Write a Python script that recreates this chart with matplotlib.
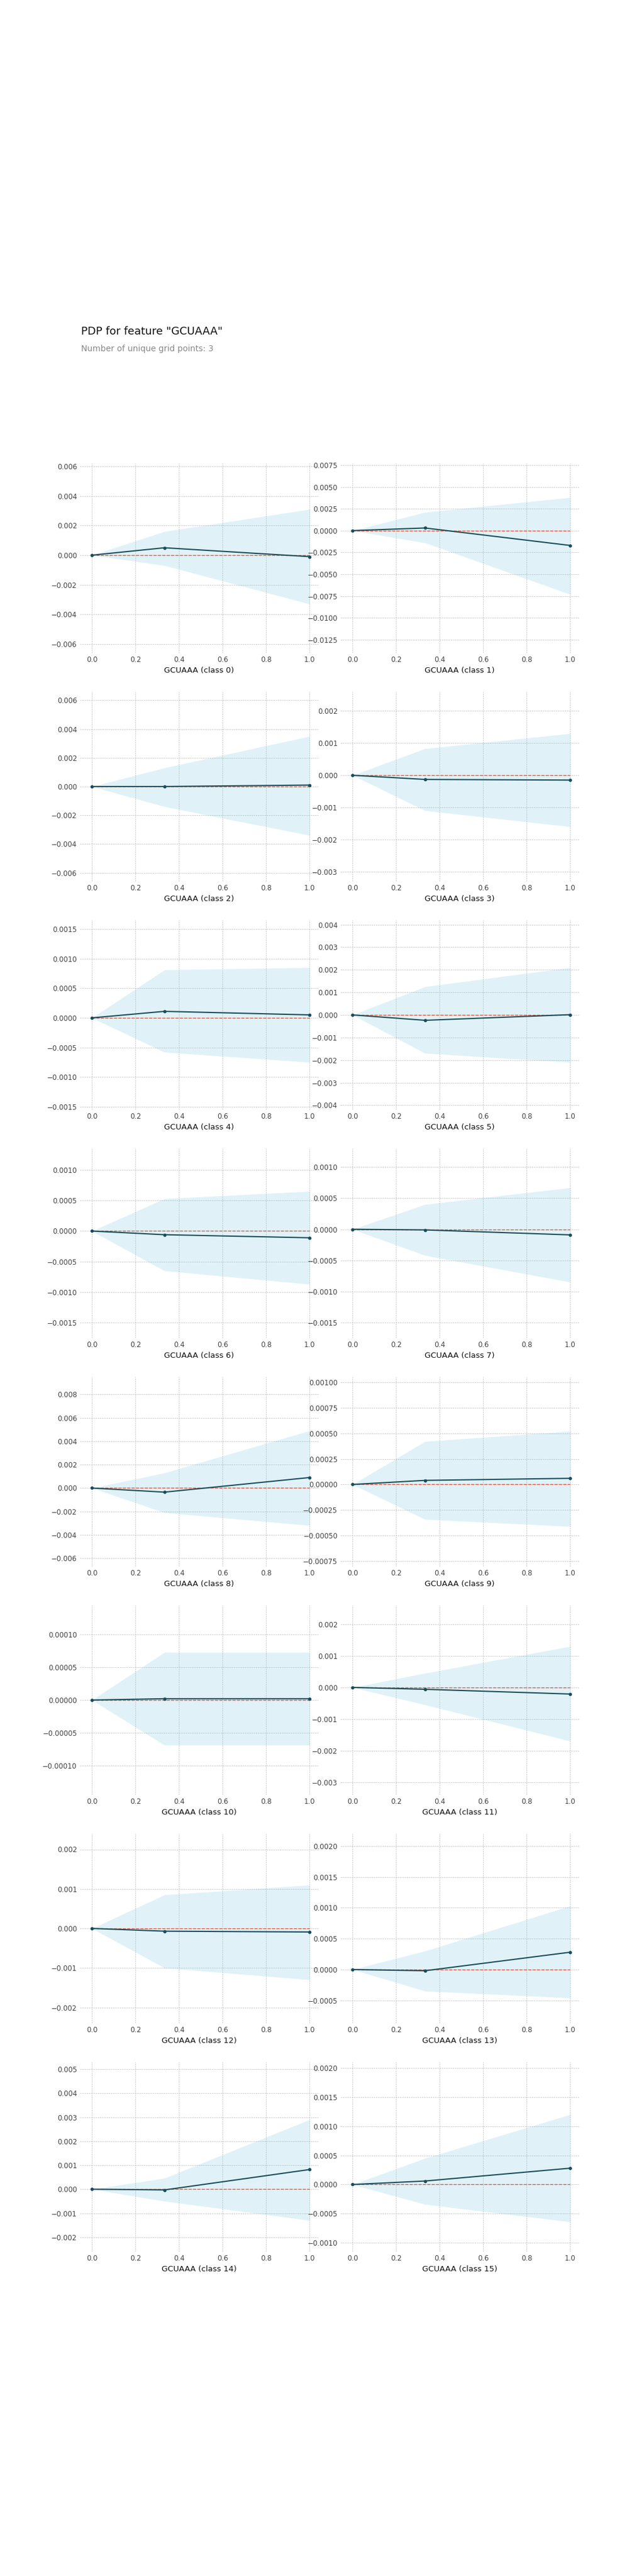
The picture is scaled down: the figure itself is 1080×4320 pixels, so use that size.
import matplotlib
matplotlib.use("Agg")
import matplotlib.pyplot as plt
import numpy as np

feature = "GCUAAA"
grid = [0.0, 1/3, 1.0]
classes = list(range(16))
pdp = [
    [0, 0.0005, -0.0001], [0, 0.0003, -0.0017], [0, 0.0, 0.0001], [0, -0.00013, -0.00015],
    [0, 0.00011, 0.00005], [0, -0.00024, 0.00001], [0, -0.00006, -0.00011], [0, -0.00001, -0.00009],
    [0, -0.00035, 0.0009], [0, 0.00004, 0.00006], [0, 0.000002, 0.000002], [0, -0.00006, -0.00021],
    [0, -0.00007, -0.00009], [0, -0.00002, 0.00028], [0, -0.00003, 0.00082], [0, 0.00006, 0.00028],
]
upper = [
    [0, 0.0016, 0.0031], [0, 0.0021, 0.0038], [0, 0.0013, 0.0035], [0, 0.00083, 0.0013],
    [0, 0.00081, 0.00085], [0, 0.00125, 0.0021], [0, 0.00053, 0.00065], [0, 0.0004, 0.00067],
    [0, 0.0013, 0.0049], [0, 0.00042, 0.00052], [0, 0.000073, 0.000073], [0, 0.00045, 0.0013],
    [0, 0.00085, 0.0011], [0, 0.0003, 0.00103], [0, 0.00046, 0.0029], [0, 0.00045, 0.0012],
]
lower = [
    [0, -0.0007, -0.0033], [0, -0.0014, -0.0073], [0, -0.0014, -0.0034], [0, -0.0011, -0.0016],
    [0, -0.00058, -0.00075], [0, -0.0017, -0.0021], [0, -0.00065, -0.00087], [0, -0.00042, -0.00085],
    [0, -0.0021, -0.0032], [0, -0.00034, -0.00041], [0, -0.000069, -0.000069], [0, -0.00055, -0.0017],
    [0, -0.001, -0.0013], [0, -0.00035, -0.00046], [0, -0.0005, -0.0013], [0, -0.00034, -0.00064],
]
ylims = [
    (-0.0066, 0.0062), (-0.014, 0.0077), (-0.0066, 0.0066), (-0.0033, 0.0026),
    (-0.00155, 0.00165), (-0.0042, 0.0042), (-0.00175, 0.00135), (-0.00175, 0.0013),
    (-0.0067, 0.0095), (-0.0008, 0.00105), (-0.000145, 0.000145), (-0.0034, 0.0026),
    (-0.0024, 0.0024), (-0.00087, 0.0022), (-0.0026, 0.0053), (-0.00115, 0.0021),
]

W, H = 1080, 4320
fig = plt.figure(figsize=(W/100, H/100), dpi=100)
fig.text(136/W, 1-556/H, f'PDP for feature "{feature}"', fontsize=13, color="#111111", va="center")
fig.text(136/W, 1-585/H, "Number of unique grid points: 3", fontsize=10, color="#888888", va="center")

lefts = [134, 571]
aw, ah = 400, 318
for i, c in enumerate(classes):
    r, col = divmod(i, 2)
    top = 777 + 383*r
    ax = fig.add_axes([lefts[col]/W, 1-(top+ah)/H, aw/W, ah/H])
    ax.fill_between(grid, upper[i], lower[i], color="#66C2D7", alpha=0.2, lw=0)
    ax.plot(grid, [0]*3, ls="--", color="#E75438", lw=1)
    ax.plot(grid, pdp[i], color="#1A4E5D", lw=1.5, marker="o", ms=3)
    ax.set_xlim(-0.055, 1.04)
    ax.set_ylim(*ylims[i])
    for s in ax.spines.values():
        s.set_visible(False)
    ax.grid(True, ls="--", lw=0.5, color="#bbbbbb")
    ax.set_axisbelow(True)
    ax.tick_params(colors="#424242", labelsize=8.5, length=0)
    ax.set_xlabel(f"{feature} (class {c})", fontsize=9.5, color="#111111")

fig.savefig("out.png", dpi=100)
